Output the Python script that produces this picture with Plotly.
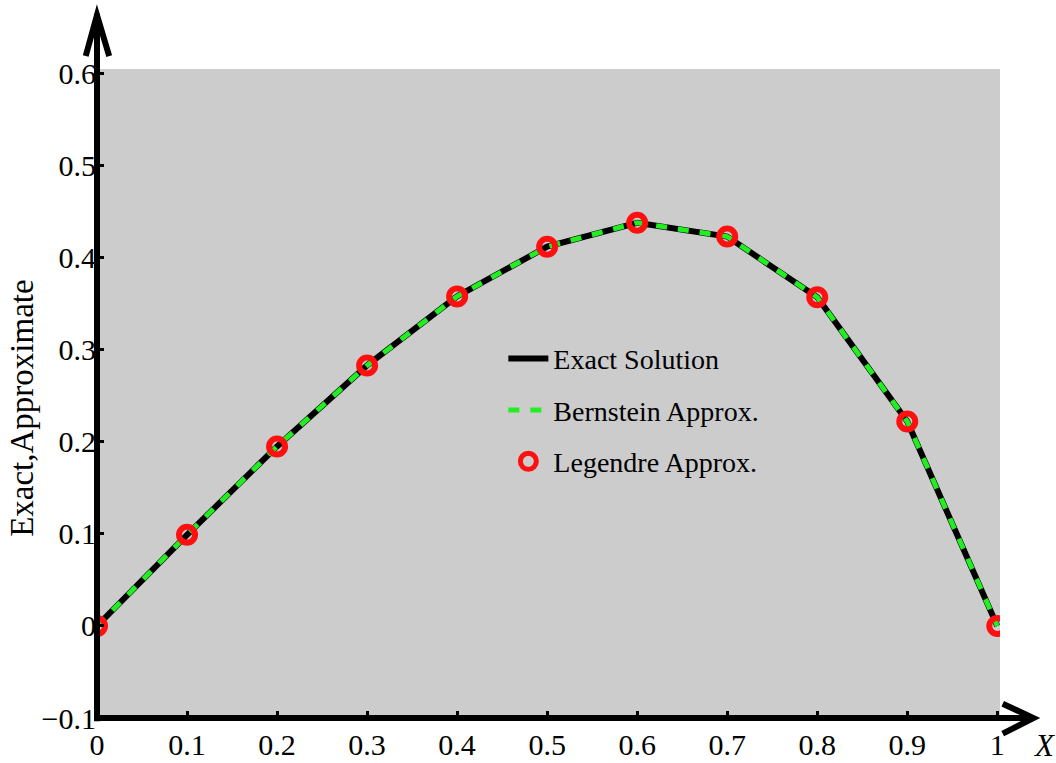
import plotly.graph_objects as go

# Sample points and solution values
x_vals = [0.0, 0.1, 0.2, 0.3, 0.4, 0.5, 0.6, 0.7, 0.8, 0.9, 1.0]
exact = [0.0, 0.099, 0.195, 0.283, 0.358, 0.412, 0.438, 0.423, 0.357, 0.222, 0.0]
bernstein = [0.0, 0.099, 0.195, 0.283, 0.358, 0.412, 0.438, 0.423, 0.357, 0.222, 0.0]
legendre = [0.0, 0.099, 0.195, 0.283, 0.358, 0.412, 0.438, 0.423, 0.357, 0.222, 0.0]

x_ticks = [0, 0.1, 0.2, 0.3, 0.4, 0.5, 0.6, 0.7, 0.8, 0.9, 1]
x_tick_text = ["0", "0.1", "0.2", "0.3", "0.4", "0.5", "0.6", "0.7", "0.8", "0.9", "1"]
y_ticks = [-0.1, 0, 0.1, 0.2, 0.3, 0.4, 0.5, 0.6]
y_tick_text = ["\u22120.1", "0", "0.1", "0.2", "0.3", "0.4", "0.5", "0.6"]

SERIF = "Liberation Serif"

fig = go.Figure()
fig.add_trace(go.Scatter(
    x=x_vals, y=exact, mode="lines", name="Exact Solution", legendgroup="a",
    line=dict(color="black", width=6),
))
fig.add_trace(go.Scatter(
    x=x_vals, y=bernstein, mode="lines", name="Bernstein Approx.", legendgroup="b",
    line=dict(color="#22ee22", width=5, dash="11px,11px"),
))
fig.add_trace(go.Scatter(
    x=x_vals, y=legendre, mode="markers", name="Legendre Approx.", legendgroup="c",
    marker=dict(symbol="circle-open", size=16, color="#ff1010",
                line=dict(color="#ff1010", width=6)),
))

# Thick axis lines with open arrowheads, drawn in paper coordinates
ax_line = dict(color="black", width=6)
shapes = [
    dict(type="line", xref="paper", yref="paper", x0=0, y0=-0.005, x1=0, y1=1.085, line=ax_line),
    dict(type="path", xref="paper", yref="paper",
         path="M -0.0125,1.02 L 0,1.083 L 0.0135,1.02", line=ax_line),
    dict(type="line", xref="paper", yref="paper", x0=-0.003, y0=0, x1=1.037, y1=0, line=ax_line),
    dict(type="path", xref="paper", yref="paper",
         path="M 1.003,0.022 L 1.037,0 L 1.003,-0.024", line=ax_line),
]

annotations = [
    dict(text="Exact,Approximate", xref="paper", yref="paper", x=-0.083, y=0.478,
         xanchor="center", yanchor="middle",
         textangle=-90, showarrow=False, font=dict(family=SERIF, size=33, color="black")),
    dict(text="<i>X</i>", xref="paper", yref="paper", x=1.049, y=-0.042,
         xanchor="center", yanchor="middle",
         showarrow=False, font=dict(family=SERIF, size=31, color="black")),
]

fig.update_layout(
    width=1056, height=763,
    margin=dict(l=97, r=56, t=69, b=45, autoexpand=False),
    paper_bgcolor="white",
    plot_bgcolor="#cccccc",
    showlegend=True,
    legend=dict(x=0.45, y=0.592, xanchor="left", yanchor="top",
                bgcolor="rgba(0,0,0,0)", borderwidth=0,
                font=dict(family=SERIF, size=28, color="black"),
                itemwidth=40, tracegroupgap=12),
    shapes=shapes,
    annotations=annotations,
    xaxis=dict(range=[0, 1.003], tickvals=x_ticks, ticktext=x_tick_text,
               showgrid=False, zeroline=False, showline=False, automargin=False,
               ticks="inside", ticklen=7, tickwidth=3, tickcolor="black",
               ticklabelstandoff=6,
               tickfont=dict(family=SERIF, size=30, color="black")),
    yaxis=dict(range=[-0.1, 0.605], tickvals=y_ticks, ticktext=y_tick_text,
               showgrid=False, zeroline=False, showline=False, automargin=False,
               ticks="inside", ticklen=7, tickwidth=3, tickcolor="black",
               tickfont=dict(family=SERIF, size=30, color="black")),
)

fig.write_html("out.html")
